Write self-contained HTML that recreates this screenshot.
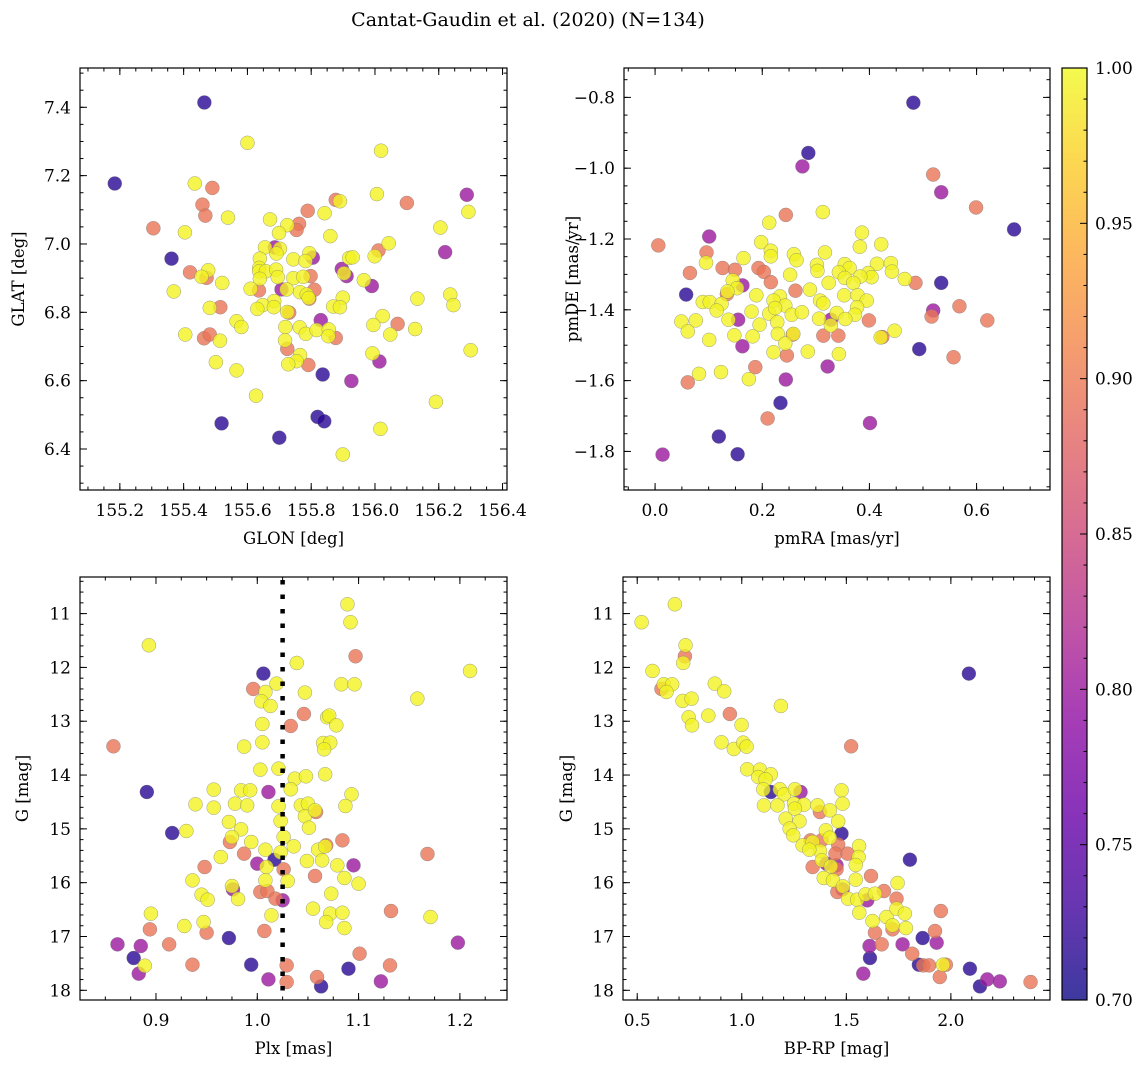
<!DOCTYPE html>
<html><head><meta charset="utf-8"><style>
html,body{margin:0;padding:0;background:#fff;}
svg{display:block;}
svg text{font-family:"DejaVu Serif","Liberation Serif",serif;}
</style></head><body>
<svg id="fig" width="1148" height="1067" viewBox="0 0 1148 1067" xmlns="http://www.w3.org/2000/svg">
<defs><linearGradient id="plasmaGrad" x1="0" y1="1" x2="0" y2="0"></linearGradient></defs>
<text x="528" y="26" font-size="19" text-anchor="middle">Cantat-Gaudin et al. (2020) (N=134)</text>
</svg>
<script>
// Panel A: GLON vs GLAT
const glonA=[155.465,155.184,155.362,155.519,155.700,155.836,155.820,155.841,
156.288,156.220,155.896,155.911,155.990,155.830,156.014,155.926,155.707,155.805,155.686,
155.490,155.459,155.468,155.305,155.789,155.762,155.754,155.877,156.100,156.011,155.420,155.472,155.515,155.464,155.482,155.636,155.798,155.810,155.794,155.731,155.725,155.791,155.877,156.071,
155.600,156.019,155.435,156.006,155.890,156.293,155.842,155.539,155.671,155.725,155.699,155.404,155.860,156.205,156.043,155.655,155.702,155.691,155.794,155.744,155.782,155.639,155.919,155.930,155.999,155.637,155.637,155.658,155.690,155.477,155.456,155.695,155.744,155.775,155.639,155.521,155.903,155.965,155.369,155.610,155.723,155.765,155.786,155.792,155.899,156.133,156.236,156.246,155.684,155.648,155.631,155.683,155.482,155.869,155.890,155.725,156.024,155.995,156.126,155.566,155.581,155.719,155.764,155.783,155.817,155.855,155.854,155.405,155.514,155.718,155.765,155.754,155.728,155.501,155.566,155.992,156.048,155.627,156.191,156.017,155.899,156.300];
const glatA=[7.414,7.177,6.957,6.475,6.433,6.618,6.494,6.481,
7.144,6.976,6.927,6.906,6.877,6.777,6.656,6.599,6.867,6.960,6.990,
7.164,7.115,7.083,7.046,7.097,7.059,7.041,7.129,7.120,6.981,6.917,6.901,6.815,6.724,6.735,6.864,6.906,6.866,6.840,6.799,6.693,6.646,6.725,6.766,
7.296,7.273,7.177,7.146,7.125,7.094,7.090,7.077,7.072,7.055,7.032,7.034,7.023,7.048,7.002,6.990,6.986,6.972,6.973,6.955,6.950,6.957,6.959,6.961,6.964,6.930,6.920,6.920,6.925,6.923,6.904,6.903,6.900,6.904,6.898,6.886,6.914,6.894,6.861,6.869,6.867,6.859,6.852,6.842,6.843,6.840,6.852,6.821,6.833,6.821,6.810,6.815,6.813,6.817,6.815,6.801,6.789,6.763,6.751,6.774,6.757,6.757,6.756,6.737,6.748,6.750,6.730,6.735,6.717,6.718,6.675,6.657,6.648,6.654,6.630,6.680,6.735,6.556,6.538,6.459,6.384,6.689];
const probA=[].concat(Array(8).fill(0.715),Array(11).fill(0.80),Array(24).fill(0.895),Array(90).fill(0.995));

// Panel B: pmRA vs pmDE
const pmraB=[0.482,0.286,0.670,0.058,0.534,0.493,0.234,0.119,0.154,
0.275,0.534,0.101,0.163,0.155,0.163,0.519,0.328,0.322,0.244,0.401,0.014,
0.006,0.096,0.065,0.126,0.149,0.134,0.193,0.203,0.216,0.262,0.244,0.519,0.599,0.486,0.568,0.516,0.620,0.399,0.257,0.314,0.342,0.246,0.187,0.061,0.210,0.557,0.424,
0.313,0.213,0.198,0.216,0.216,0.259,0.264,0.317,0.386,0.382,0.422,0.165,0.095,0.302,0.303,0.354,0.363,0.414,0.440,0.442,0.252,0.145,0.398,0.404,0.383,0.343,0.354,0.324,0.370,0.466,0.153,0.135,0.289,0.189,0.233,0.353,0.378,0.221,0.243,0.308,0.314,0.395,0.377,0.089,0.102,0.124,0.115,0.180,0.213,0.224,0.255,0.274,0.339,0.373,0.049,0.076,0.137,0.228,0.306,0.355,0.195,0.061,0.148,0.182,0.229,0.258,0.328,0.421,0.447,0.101,0.243,0.221,0.285,0.343,0.082,0.123,0.175];
const pmdeB=[-0.815,-0.957,-1.173,-1.357,-1.324,-1.511,-1.663,-1.758,-1.808,
-0.995,-1.068,-1.193,-1.331,-1.428,-1.503,-1.402,-1.428,-1.560,-1.597,-1.720,-1.809,
-1.218,-1.238,-1.296,-1.282,-1.287,-1.356,-1.282,-1.293,-1.322,-1.346,-1.132,-1.018,-1.111,-1.324,-1.390,-1.419,-1.430,-1.430,-1.470,-1.473,-1.473,-1.529,-1.562,-1.605,-1.707,-1.534,-1.477,
-1.124,-1.154,-1.209,-1.233,-1.249,-1.243,-1.260,-1.238,-1.182,-1.222,-1.215,-1.254,-1.267,-1.273,-1.290,-1.271,-1.282,-1.270,-1.268,-1.292,-1.301,-1.317,-1.296,-1.308,-1.306,-1.294,-1.310,-1.324,-1.324,-1.313,-1.339,-1.348,-1.343,-1.359,-1.362,-1.359,-1.359,-1.374,-1.388,-1.374,-1.382,-1.374,-1.393,-1.378,-1.378,-1.383,-1.402,-1.405,-1.411,-1.395,-1.414,-1.407,-1.409,-1.414,-1.433,-1.430,-1.428,-1.435,-1.425,-1.426,-1.442,-1.461,-1.472,-1.475,-1.468,-1.468,-1.444,-1.478,-1.459,-1.485,-1.495,-1.520,-1.518,-1.525,-1.581,-1.576,-1.596];
const probB=[].concat(Array(9).fill(0.715),Array(12).fill(0.80),Array(27).fill(0.895),Array(90).fill(0.995));

// Panel C: Plx vs G
const plxC=[1.006,0.891,0.916,1.017,0.972,0.878,0.994,1.090,1.063,
1.011,1.000,1.095,0.976,1.025,0.862,0.885,0.883,1.011,1.122,1.198,
1.097,0.996,1.046,1.033,0.858,0.973,0.987,0.948,1.068,1.084,1.168,1.026,1.057,1.003,1.010,1.018,1.058,1.132,0.894,0.950,1.007,0.913,0.936,1.029,1.029,1.059,1.101,1.131,
1.089,1.092,0.893,1.039,1.210,1.019,1.083,1.096,1.008,1.047,1.004,1.013,1.158,1.069,1.071,1.078,1.005,1.005,0.987,1.065,1.072,1.066,1.003,1.021,1.037,1.048,1.067,1.033,0.957,0.984,0.993,1.093,0.939,0.957,0.978,0.990,1.021,1.043,1.050,1.047,1.057,1.087,0.972,0.984,1.023,1.051,0.930,0.975,0.994,1.026,1.036,1.060,1.067,0.964,1.008,1.023,1.049,1.064,1.079,1.009,0.936,1.008,1.030,1.086,1.100,0.975,0.945,0.951,0.981,1.073,1.055,1.072,1.084,0.895,1.014,1.171,1.068,0.947,0.928,1.086,0.889];
const gC=[12.115,14.315,15.077,15.573,17.029,17.400,17.524,17.599,17.927,
14.315,15.647,15.678,16.124,16.328,17.146,17.177,17.691,17.797,17.834,17.115,
11.793,12.400,12.865,13.088,13.466,15.244,15.461,15.709,15.306,15.213,15.467,15.752,15.876,16.173,16.155,16.297,14.687,16.527,16.867,16.929,16.898,17.146,17.524,17.537,17.846,17.753,17.320,17.537,
10.827,11.161,11.589,11.917,12.066,12.301,12.314,12.314,12.456,12.468,12.629,12.716,12.580,12.927,12.896,13.076,13.051,13.392,13.472,13.404,13.398,13.522,13.900,13.881,14.067,14.024,13.986,14.265,14.271,14.284,14.284,14.358,14.544,14.606,14.532,14.563,14.581,14.563,14.532,14.767,14.656,14.575,14.872,15.009,14.854,14.978,15.040,15.151,15.244,15.151,15.325,15.387,15.325,15.523,15.387,15.436,15.597,15.585,15.678,15.709,15.957,15.957,15.969,15.913,16.019,16.062,16.223,16.316,16.304,16.204,16.483,16.576,16.558,16.576,16.607,16.638,16.731,16.731,16.805,16.843,17.543];
const probC=[].concat(Array(9).fill(0.715),Array(11).fill(0.80),Array(28).fill(0.895),Array(90).fill(0.995));
const plxMean=1.025;

// Panel D: BP-RP vs G
const bprpD=[2.086,1.139,1.477,1.804,1.865,1.613,1.847,2.091,2.139,
1.281,1.405,1.453,1.482,1.600,1.611,1.769,1.932,1.581,2.174,2.234,
0.728,0.616,0.943,1.523,1.374,1.329,1.382,1.461,1.448,1.506,1.339,1.453,1.618,1.680,1.457,1.740,1.952,1.637,1.721,1.924,1.669,1.815,1.868,1.896,1.976,1.947,2.381,
0.680,0.521,0.731,0.720,0.573,0.627,0.667,0.640,0.871,0.916,0.717,0.760,1.187,0.746,0.762,0.840,0.999,0.903,0.962,1.007,1.023,1.026,1.087,1.139,1.079,1.114,1.103,1.182,1.203,1.254,1.477,1.106,1.171,1.250,1.298,1.362,1.421,1.482,1.254,1.210,1.276,1.461,1.229,1.246,1.402,1.291,1.339,1.374,1.421,1.561,1.323,1.383,1.559,1.545,1.426,1.392,1.436,1.484,1.545,1.745,1.508,1.552,1.592,1.637,1.562,1.625,1.692,1.740,1.780,1.721,1.785,1.962];
const gD=[12.115,14.315,15.089,15.573,17.029,17.400,17.524,17.599,17.927,
14.315,15.647,15.678,16.124,16.328,17.177,17.146,17.115,17.691,17.797,17.834,
11.793,12.400,12.865,13.466,14.687,15.213,15.213,15.294,15.461,15.461,15.709,15.752,15.876,16.155,16.173,16.297,16.527,16.929,16.867,16.898,17.146,17.320,17.537,17.537,17.524,17.753,17.846,
10.827,11.161,11.589,11.917,12.066,12.314,12.314,12.456,12.301,12.444,12.623,12.580,12.716,12.927,13.076,12.896,13.069,13.392,13.516,13.398,13.472,13.893,13.900,13.986,14.036,14.079,14.265,14.265,14.358,14.265,14.284,14.563,14.563,14.532,14.550,14.563,14.656,14.532,14.625,14.810,14.860,14.860,14.996,15.120,15.027,15.306,15.244,15.411,15.164,15.318,15.387,15.585,15.523,15.672,15.697,15.913,15.957,16.068,15.944,16.006,16.297,16.316,16.217,16.204,16.558,16.713,16.638,16.483,16.576,16.793,16.843,17.524];
const probD=[].concat(Array(9).fill(0.715),Array(11).fill(0.80),Array(27).fill(0.895),Array(90).fill(0.995));

const cbarTicks=[0.70,0.75,0.80,0.85,0.90,0.95,1.00];

const NS="http://www.w3.org/2000/svg";
const svg=document.getElementById('fig');
const plasma=["#0d0887","#41049d","#6a00a8","#8f0da4","#b12a90","#cc4778","#e16462","#f2844b","#fca636","#fcce25","#f0f921"];
function hex(h){return [parseInt(h.substr(1,2),16),parseInt(h.substr(3,2),16),parseInt(h.substr(5,2),16)];}
function col(p){if(typeof p!=='number'||isNaN(p))p=0.995;let t=Math.max(0,Math.min(1,(p-0.7)/0.3))*10;let i=Math.min(9,Math.floor(t));let f=t-i;
 const a=hex(plasma[i]),b=hex(plasma[i+1]);return 'rgb('+a.map((v,k)=>Math.round(v+(b[k]-v)*f)).join(',')+')';}
function mk(tag,attrs,parent){const e=document.createElementNS(NS,tag);for(const k in attrs)e.setAttribute(k,attrs[k]);(parent||svg).appendChild(e);return e;}
function fmt(v,d){let s=Math.abs(v).toFixed(d);if(v<-1e-9)s='\u2212'+s;return s;}
function ticksOf(min,max,step){const r=[];const n0=Math.ceil(min/step-1e-6),n1=Math.floor(max/step+1e-6);for(let n=n0;n<=n1;n++)r.push(n*step);return r;}

function panel(cfg){
 const g=mk('g',{});
 
 
 const L=cfg.l,T=cfg.t,W=cfg.w,H=cfg.h;
 const sx=v=>L+(v-cfg.x0)/(cfg.x1-cfg.x0)*W;
 const sy=cfg.inv?(v=>T+(v-cfg.y0)/(cfg.y1-cfg.y0)*H):(v=>T+H-(v-cfg.y0)/(cfg.y1-cfg.y0)*H);
 const clip='clip'+cfg.name;
 const cp=mk('clipPath',{id:clip},g);mk('rect',{x:L,y:T,width:W,height:H},cp);
 const pts=mk('g',{'clip-path':'url(#'+clip+')'},g);
 
 
 const n=Math.min(cfg.xs.length,cfg.ys.length);
 const pv=i=>(typeof cfg.ps[i]==='number'?cfg.ps[i]:0.995);
 const idx=[];for(let i=0;i<n;i++)idx.push(i);
 idx.sort((a,b)=>pv(a)-pv(b));
 idx.forEach(i=>{
  const c=mk('circle',{cx:sx(cfg.xs[i]),cy:sy(cfg.ys[i]),r:7,fill:col(pv(i)),'fill-opacity':0.8,stroke:'#777','stroke-width':0.5,'stroke-opacity':0.7},pts);
  
  
 });
 if(cfg.vline!==undefined){
  const ln=mk('line',{x1:sx(cfg.vline),x2:sx(cfg.vline),y1:T+3,y2:T+H,stroke:'#000','stroke-width':4.5,'stroke-dasharray':'4.5 10'},g);
  
  
 }
 const fr=mk('rect',{x:L,y:T,width:W,height:H,fill:'none',stroke:'#000','stroke-width':1.2},g);
 
 
 const tk=mk('g',{stroke:'#000','stroke-width':1},g);
 ticksOf(cfg.x0,cfg.x1,cfg.xmin).forEach(v=>{const x=sx(v);mk('line',{x1:x,x2:x,y1:T+H,y2:T+H-3.5},tk);mk('line',{x1:x,x2:x,y1:T,y2:T+3.5},tk);});
 ticksOf(cfg.y0,cfg.y1,cfg.ymin).forEach(v=>{const y=sy(v);mk('line',{x1:L,x2:L+3.5,y1:y,y2:y},tk);mk('line',{x1:L+W,x2:L+W-3.5,y1:y,y2:y},tk);});
 ticksOf(cfg.x0,cfg.x1,cfg.xmaj).forEach(v=>{const x=sx(v);mk('line',{x1:x,x2:x,y1:T+H,y2:T+H-7},tk);mk('line',{x1:x,x2:x,y1:T,y2:T+7},tk);
  const t=mk('text',{x:x,y:T+H+26,'font-size':17,'text-anchor':'middle'},g);t.textContent=fmt(v,cfg.xd);
  });
 ticksOf(cfg.y0,cfg.y1,cfg.ymaj).forEach(v=>{const y=sy(v);mk('line',{x1:L,x2:L+7,y1:y,y2:y},tk);mk('line',{x1:L+W,x2:L+W-7,y1:y,y2:y},tk);
  const t=mk('text',{x:L-9,y:y+6,'font-size':17,'text-anchor':'end'},g);t.textContent=fmt(v,cfg.yd);
  });
 const xl=mk('text',{x:L+W/2,y:T+H+54,'font-size':16.5,'text-anchor':'middle'},g);xl.textContent=cfg.xlab;
 
 const yx=cfg.ylx,yc=T+H/2;
 const yl=mk('text',{x:yx,y:yc,'font-size':16.5,'text-anchor':'middle',transform:'rotate(-90 '+yx+' '+yc+')'},g);yl.textContent=cfg.ylab;
 
}

panel({name:'glon-glat-panel',l:80,t:68,w:427,h:422,x0:155.075,x1:156.414,y0:6.28,y1:7.515,xmaj:0.2,xmin:0.05,ymaj:0.2,ymin:0.05,xd:1,yd:1,xs:glonA,ys:glatA,ps:probA,xlab:'GLON [deg]',ylab:'GLAT [deg]',ylx:24});
panel({name:'proper-motion-panel',l:624,t:68,w:426,h:422,x0:-0.058,x1:0.737,y0:-1.909,y1:-0.717,xmaj:0.2,xmin:0.05,ymaj:0.2,ymin:0.05,xd:1,yd:1,xs:pmraB,ys:pmdeB,ps:probB,xlab:'pmRA [mas/yr]',ylab:'pmDE [mas/yr]',ylx:578});
panel({name:'parallax-mag-panel',l:80,t:577,w:427,h:423,x0:0.825,x1:1.2465,y0:10.32,y1:18.18,inv:true,xmaj:0.1,xmin:0.025,ymaj:1,ymin:0.2,xd:1,yd:0,xs:plxC,ys:gC,ps:probC,xlab:'Plx [mas]',ylab:'G [mag]',ylx:28,vline:plxMean});
panel({name:'cmd-panel',l:623,t:577,w:427,h:423,x0:0.432,x1:2.474,y0:10.32,y1:18.18,inv:true,xmaj:0.5,xmin:0.1,ymaj:1,ymin:0.2,xd:1,yd:0,xs:bprpD,ys:gD,ps:probD,xlab:'BP-RP [mag]',ylab:'G [mag]',ylx:572});

// colorbar
const grad=document.getElementById('plasmaGrad');
plasma.forEach((c,i)=>mk('stop',{offset:(i/10),'stop-color':c},grad));
const cb=mk('g',{});


const cbL=1062,cbT=68,cbW=25,cbH=932;
mk('rect',{x:cbL,y:cbT,width:cbW,height:cbH,fill:'url(#plasmaGrad)','fill-opacity':0.8},cb);
mk('rect',{x:cbL,y:cbT,width:cbW,height:cbH,fill:'none',stroke:'#000','stroke-width':1.2},cb);
const cy=v=>cbT+cbH-(v-0.7)/0.3*cbH;
for(let k=70;k<=100;k++){const y=cy(k/100);const maj=(k%5===0);mk('line',{x1:cbL+cbW,x2:cbL+cbW-(maj?7:3.5),y1:y,y2:y,stroke:'#000','stroke-width':1},cb);}
cbarTicks.forEach(v=>{const t=mk('text',{x:cbL+cbW+8,y:cy(v)+6,'font-size':17},cb);t.textContent=v.toFixed(2);
 });
</script>
</body></html>
